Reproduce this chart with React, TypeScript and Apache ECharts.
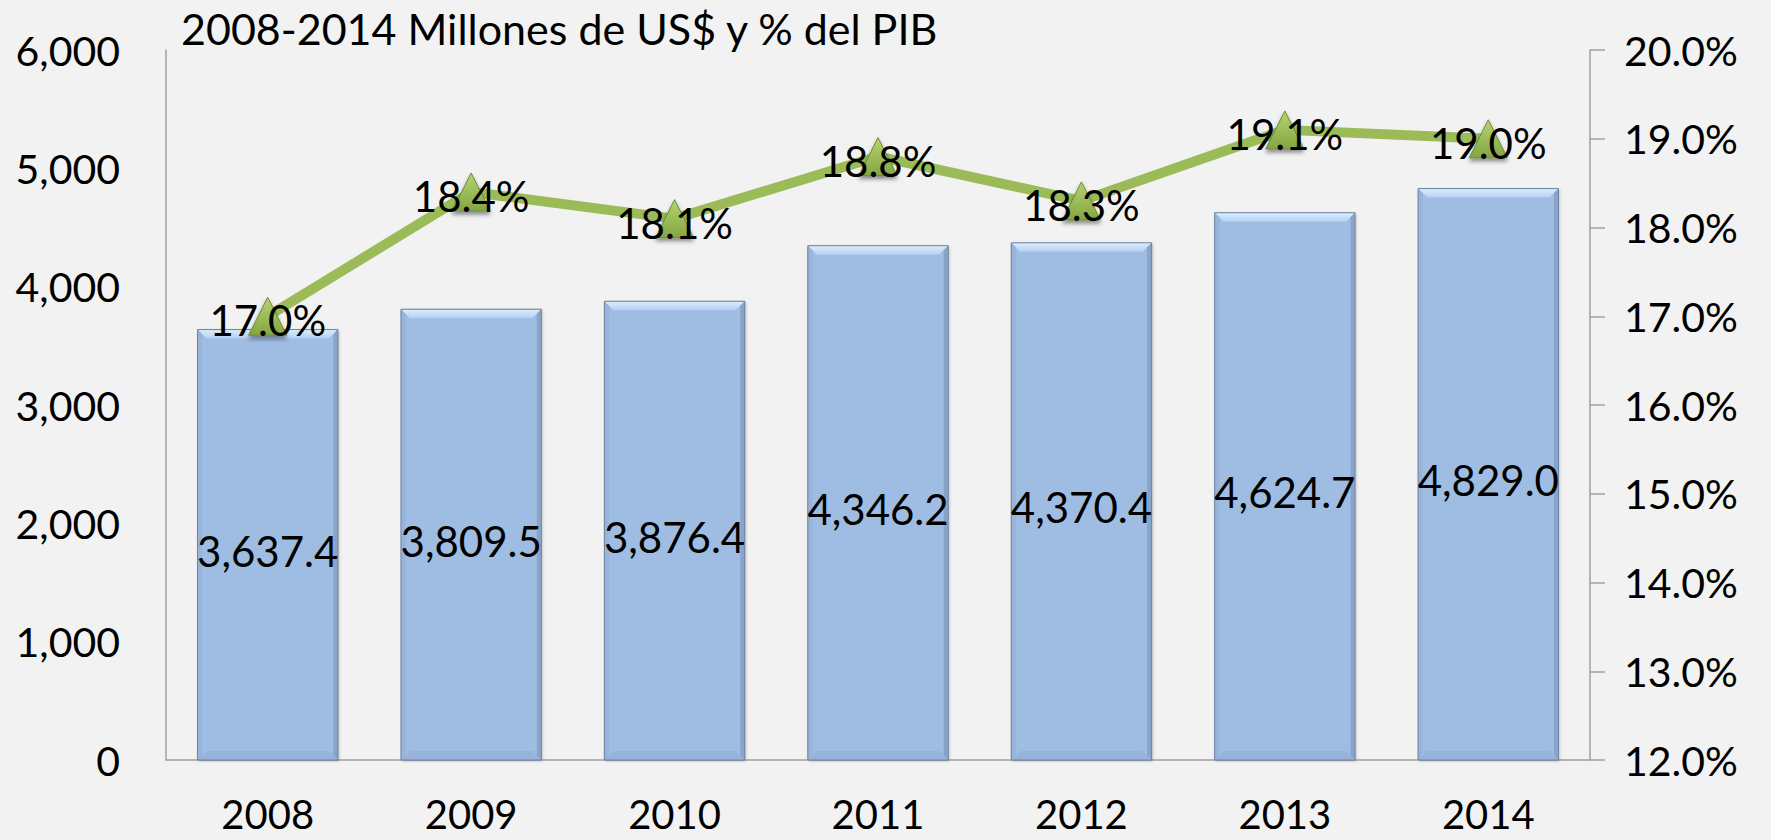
import React, { useEffect, useRef } from "react";
import * as echarts from "echarts";

const years = ["2008", "2009", "2010", "2011", "2012", "2013", "2014"];
const spending = [3637.4, 3809.5, 3876.4, 4346.2, 4370.4, 4624.7, 4829.0];
const pctGdp = [17.0, 18.4, 18.1, 18.8, 18.3, 19.1, 19.0];
const titleText = "2008-2014 Millones de US$ y % del PIB";

const FONT = "Lato";

export default function App() {
  const ref = useRef<HTMLDivElement>(null);
  useEffect(() => {
    if (!ref.current) return;
    const chart = echarts.init(ref.current, null, { renderer: "svg" });
    const fmtNum = (v: number, d: number) =>
      v.toLocaleString("en-US", { minimumFractionDigits: d, maximumFractionDigits: d });
    const BEV = 9;
    chart.setOption({
      animation: false,
      backgroundColor: "#F2F2F2",
      textStyle: { fontFamily: FONT },
      title: {
        text: titleText,
        left: 176,
        top: 2,
        textStyle: { fontFamily: FONT, fontSize: 43, lineHeight: 43, fontWeight: "normal", color: "#000" },
      },
      grid: { left: 166, right: 181, top: 50, bottom: 80 },
      xAxis: {
        type: "category",
        data: years,
        axisLine: { lineStyle: { color: "#A0A0A0", width: 1.5 } },
        axisTick: { show: false },
        axisLabel: { color: "#000", fontSize: 40, lineHeight: 36, margin: 36, fontFamily: FONT },
      },
      yAxis: [
        {
          type: "value",
          min: 0,
          max: 6000,
          interval: 1000,
          axisLine: { show: true, lineStyle: { color: "#A0A0A0", width: 1.5 } },
          axisTick: { show: false },
          splitLine: { show: false },
          axisLabel: {
            color: "#000",
            fontSize: 41,
            margin: 46,
            fontFamily: FONT,
            formatter: (v: number) => fmtNum(v, 0),
          },
        },
        {
          type: "value",
          min: 12,
          max: 20,
          interval: 1,
          position: "right",
          axisLine: { show: true, lineStyle: { color: "#A0A0A0", width: 1.5 } },
          axisTick: { show: true, length: 15, lineStyle: { color: "#A0A0A0", width: 1.5 } },
          splitLine: { show: false },
          axisLabel: {
            color: "#000",
            fontSize: 41,
            margin: 34,
            fontFamily: FONT,
            formatter: (v: number) => v.toFixed(1) + "%",
          },
        },
      ],
      series: [
        {
          type: "bar",
          data: spending,
          yAxisIndex: 0,
          barCategoryGap: "31%",
          z: 2,
          itemStyle: {
            color: "#9FBCE3",
            borderColor: "#6D84A4",
            borderWidth: 1,
            shadowColor: "rgba(0,0,0,0.25)",
            shadowBlur: 3,
            shadowOffsetX: 1,
            shadowOffsetY: 1,
          },
          label: { show: false },
        },
        {
          type: "custom",
          yAxisIndex: 0,
          z: 3,
          silent: true,
          data: spending.map((v, i) => [i, v]),
          renderItem: (params: any, api: any) => {
            const top = api.coord([api.value(0), api.value(1)]);
            const base = api.coord([api.value(0), 0]);
            const band = api.size([1, 0])[0];
            const w = band * 0.69;
            const x0 = top[0] - w / 2;
            const x1 = top[0] + w / 2;
            const y0 = top[1];
            const y1 = base[1];
            return {
              type: "group",
              children: [
                {
                  type: "polygon",
                  shape: { points: [[x0, y0], [x1, y0], [x1 - BEV, y0 + BEV], [x0 + BEV, y0 + BEV]] },
                  style: {
                    fill: new echarts.graphic.LinearGradient(0, 0, 0, 1, [
                      { offset: 0, color: "#DDEEFC" },
                      { offset: 1, color: "#B3D0F2" },
                    ]),
                  },
                },
                {
                  type: "polygon",
                  shape: { points: [[x1, y0], [x1, y1], [x1 - BEV / 2, y1 - BEV / 2], [x1 - BEV / 2, y0 + BEV / 2]] },
                  style: { fill: "#8AA4C8" },
                },
                {
                  type: "polygon",
                  shape: { points: [[x0, y1], [x1, y1], [x1 - BEV, y1 - BEV], [x0 + BEV, y1 - BEV]] },
                  style: { fill: "#97B3D9" },
                },
                {
                  type: "polygon",
                  shape: { points: [[x0, y0], [x0, y1], [x0 + BEV / 2, y1 - BEV / 2], [x0 + BEV / 2, y0 + BEV / 2]] },
                  style: { fill: "#98B4DA" },
                },
                {
                  type: "rect",
                  shape: { x: x0, y: y0, width: w, height: y1 - y0 },
                  style: { fill: "none", stroke: "#6D84A4", lineWidth: 1 },
                },
                {
                  type: "text",
                  x: top[0],
                  y: (y0 + y1) / 2 + 6,
                  style: {
                    text: fmtNum(api.value(1), 1),
                    fill: "#000",
                    fontSize: 42,
                    fontFamily: FONT,
                    align: "center",
                    verticalAlign: "middle",
                  },
                },
              ],
            };
          },
        },
        {
          type: "line",
          data: pctGdp,
          yAxisIndex: 1,
          z: 5,
          lineStyle: { color: "#9BBB59", width: 10 },
          symbol: "triangle",
          symbolSize: [38, 38],
          itemStyle: {
            color: new echarts.graphic.LinearGradient(0, 0, 0, 1, [
              { offset: 0, color: "#B4D46E" },
              { offset: 1, color: "#84A543" },
            ]),
            borderColor: "#6E8A36",
            borderWidth: 1,
            shadowColor: "rgba(0,0,0,0.45)",
            shadowBlur: 4,
            shadowOffsetY: 3,
          },
          label: {
            show: true,
            position: "inside",
            offset: [0, 4],
            color: "#000",
            fontSize: 42,
            fontFamily: FONT,
            formatter: (p: any) => p.value.toFixed(1) + "%",
          },
        },
      ],
    });
    return () => chart.dispose();
  }, []);
  return (
    <div
      ref={ref}
      style={{ position: "fixed", left: 0, top: 0, width: 1771, height: 840 }}
    />
  );
}
